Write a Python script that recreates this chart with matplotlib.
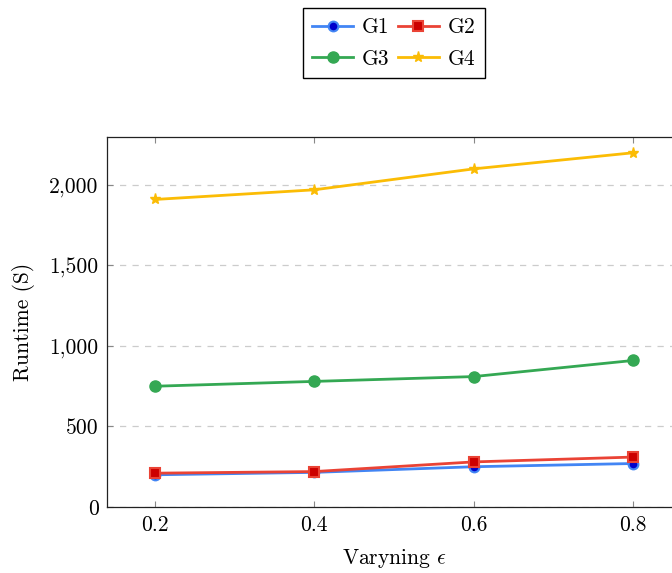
import matplotlib
matplotlib.use("Agg")
import matplotlib.pyplot as plt
from matplotlib.ticker import FuncFormatter

plt.rcParams["font.family"] = "serif"
plt.rcParams["font.serif"] = ["cmr10", "DejaVu Serif"]
plt.rcParams["mathtext.fontset"] = "cm"
plt.rcParams["axes.formatter.use_mathtext"] = True

eps = [0.2, 0.4, 0.6, 0.8]
g1 = [200, 215, 250, 270]
g2 = [210, 220, 280, 310]
g3 = [750, 780, 810, 910]
g4 = [1910, 1970, 2100, 2200]

fig = plt.figure(figsize=(6.72, 5.73), dpi=100)
ax = fig.add_axes([0.1592, 0.1152, 0.854, 0.6457])

l1, = ax.plot(eps, g1, color="#4285F4", lw=2, marker="o", ms=7,
              mfc="#0000CC", mec="#4285F4", mew=1.5, label="G1")
l2, = ax.plot(eps, g2, color="#EA4335", lw=2, marker="s", ms=7,
              mfc="#CC0000", mec="#EA4335", mew=1.5, label="G2")
l3, = ax.plot(eps, g3, color="#34A853", lw=2, marker="o", ms=8,
              mfc="#34A853", mec="#34A853", label="G3")
l4, = ax.plot(eps, g4, color="#FBBC05", lw=2, marker="*", ms=8,
              mfc="#FBBC05", mec="#FBBC05", label="G4")

ax.set_xlim(0.14, 0.86)
ax.set_ylim(0, 2298)
ax.set_xticks(eps)
ax.set_xticklabels(["0.2", "0.4", "0.6", "0.8"])
ax.set_yticks([0, 500, 1000, 1500, 2000])
ax.yaxis.set_major_formatter(FuncFormatter(lambda v, p: f"{v:,.0f}"))
ax.tick_params(direction="in", length=4, color="#888888", top=True, right=True,
               labelsize=15.5, pad=6)
ax.grid(axis="y", linestyle=(0, (5, 5)), color="#cccccc", lw=0.9)
ax.set_axisbelow(True)
for s in ax.spines.values():
    s.set_linewidth(0.9)
    s.set_color("#222222")

ax.set_xlabel(r"Varyning $\epsilon$", fontsize=15.5, labelpad=9)
ax.set_ylabel("Runtime (S)", fontsize=15.5, labelpad=10)

# legend rows: G1 G2 / G3 G4 (matplotlib fills column-major)
fig.legend([l1, l3, l2, l4], ["G1", "G3", "G2", "G4"],
           loc="upper center", bbox_to_anchor=(0.586, 0.986), ncol=2,
           fontsize=15.5, frameon=True, fancybox=False, edgecolor="black",
           framealpha=1, handlelength=1.9, columnspacing=0.4, handletextpad=0.4,
           borderpad=0.45, labelspacing=0.55, borderaxespad=0)

fig.savefig("out.png", dpi=100)
